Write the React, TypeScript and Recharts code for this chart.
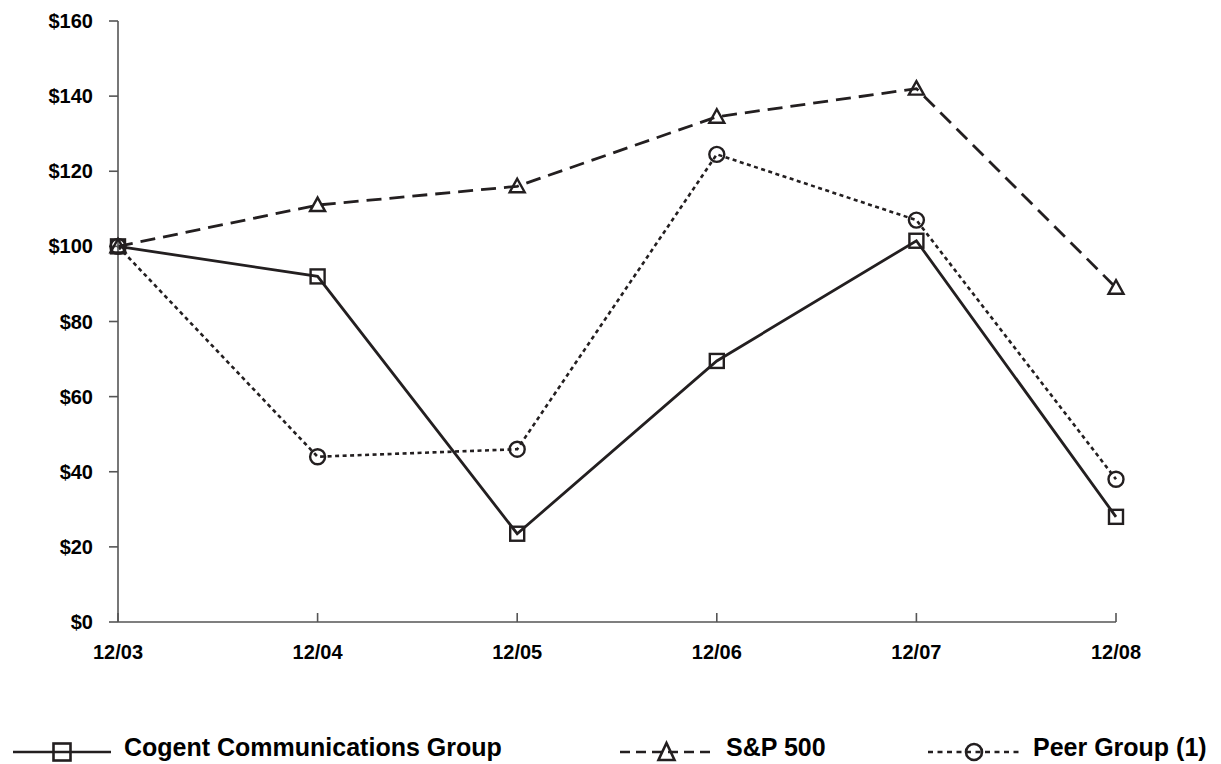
import { LineChart, Line, XAxis, YAxis } from 'recharts';

const periods = ['12/03', '12/04', '12/05', '12/06', '12/07', '12/08'];
const cogent = [100, 92, 23.5, 69.5, 101.5, 28];
const sp500 = [100, 111, 116, 134.5, 142, 89];
const peerGroup = [100, 44, 46, 124.5, 107, 38];
const yTicks = [0, 20, 40, 60, 80, 100, 120, 140, 160];

const seriesNames = ['Cogent Communications Group', 'S&P 500', 'Peer Group (1)'];

const data = periods.map((p, i) => ({
  period: p,
  cogent: cogent[i],
  sp500: sp500[i],
  peer: peerGroup[i],
}));

const INK = '#231f20';
const AXIS = '#555555';
const FONT = '"Liberation Sans", Arial, Helvetica, sans-serif';

function squareDot(props: any) {
  const { cx, cy, index } = props;
  return <rect key={`sq-${index}`} x={cx - 7} y={cy - 7} width={14} height={14} fill="none" stroke={INK} strokeWidth={2.4} />;
}

function triangleDot(props: any) {
  const { cx, cy, index } = props;
  const pts = `${cx},${cy - 7.5} ${cx + 7.5},${cy + 6} ${cx - 7.5},${cy + 6}`;
  return <polygon key={`tr-${index}`} points={pts} fill="none" stroke={INK} strokeWidth={2.4} strokeLinejoin="miter" />;
}

function circleDot(props: any) {
  const { cx, cy, index } = props;
  return <circle key={`ci-${index}`} cx={cx} cy={cy} r={7.5} fill="none" stroke={INK} strokeWidth={2.4} />;
}

function XTick(props: any) {
  const { x, y, payload } = props;
  return (
    <g>
      <line x1={x} x2={x} y1={y} y2={y - 9} stroke={AXIS} strokeWidth={1.6} />
      <text x={x} y={y + 37} textAnchor="middle" fontFamily={FONT} fontWeight="bold" fontSize={20} fill="#000">
        {payload.value}
      </text>
    </g>
  );
}

const sampleWidths = [98, 93, 92];

function LegendSample({ kind }: { kind: number }) {
  const w = sampleWidths[kind];
  const c = w / 2;
  return (
    <svg width={w} height={24} style={{ display: 'block', marginTop: 4.5 }}>
      {kind === 0 && <line x1={0} x2={w} y1={12} y2={12} stroke={INK} strokeWidth={2.6} />}
      {kind === 1 && <line x1={0} x2={w} y1={12} y2={12} stroke={INK} strokeWidth={2.6} strokeDasharray="10 6" />}
      {kind === 2 && <line x1={0} x2={w} y1={12} y2={12} stroke={INK} strokeWidth={2.4} strokeDasharray="5 4.5" />}
      {kind === 0 && <rect x={c - 8.5} y={3.5} width={17} height={17} fill="none" stroke={INK} strokeWidth={2.6} />}
      {kind === 1 && (
        <polygon points={`${c},${3} ${c + 8},${20} ${c - 8},${20}`} fill="none" stroke={INK} strokeWidth={2.6} />
      )}
      {kind === 2 && <circle cx={c} cy={12} r={8} fill="none" stroke={INK} strokeWidth={2.6} />}
    </svg>
  );
}

const legendLeft = [13, 620, 928];

export default function App() {
  return (
    <div style={{ position: 'absolute', left: 0, top: 0, width: 1221, height: 764, background: '#fff', overflow: 'hidden' }}>
      <LineChart width={1221} height={764} data={data} margin={{ top: 21, right: 105, left: 18, bottom: 82 }}>
        <XAxis
          dataKey="period"
          axisLine={{ stroke: AXIS, strokeWidth: 1.6 }}
          tickLine={false}
          tickSize={0}
          tickMargin={0}
          height={60}
          interval={0}
          tick={<XTick />}
          padding={{ left: 0, right: 0 }}
        />
        <YAxis
          domain={[0, 160]}
          ticks={yTicks}
          interval={0}
          width={100}
          axisLine={{ stroke: AXIS, strokeWidth: 1.6 }}
          tickLine={{ stroke: AXIS, strokeWidth: 1.6 }}
          tickSize={9}
          tickMargin={16}
          tickFormatter={(v: number) => `$${v}`}
          tick={{ fontFamily: FONT, fontWeight: 'bold', fontSize: 20, fill: '#000' }}
        />
        <Line
          dataKey="cogent"
          name={seriesNames[0]}
          stroke={INK}
          strokeWidth={2.8}
          dot={squareDot}
          activeDot={false}
          isAnimationActive={false}
        />
        <Line
          dataKey="sp500"
          name={seriesNames[1]}
          stroke={INK}
          strokeWidth={2.8}
          strokeDasharray="15 8"
          dot={triangleDot}
          activeDot={false}
          isAnimationActive={false}
        />
        <Line
          dataKey="peer"
          name={seriesNames[2]}
          stroke={INK}
          strokeWidth={2.6}
          strokeDasharray="4 3.5"
          dot={circleDot}
          activeDot={false}
          isAnimationActive={false}
        />
      </LineChart>
      {seriesNames.map((name, i) => (
        <div
          key={name}
          style={{
            position: 'absolute',
            left: legendLeft[i],
            top: 735,
            display: 'flex',
            alignItems: 'flex-start',
            fontFamily: FONT,
            fontWeight: 'bold',
            fontSize: 25,
            color: '#000',
            whiteSpace: 'nowrap',
          }}
        >
          <LegendSample kind={i} />
          <span style={{ marginLeft: 13, lineHeight: '25px' }}>{name}</span>
        </div>
      ))}
    </div>
  );
}
